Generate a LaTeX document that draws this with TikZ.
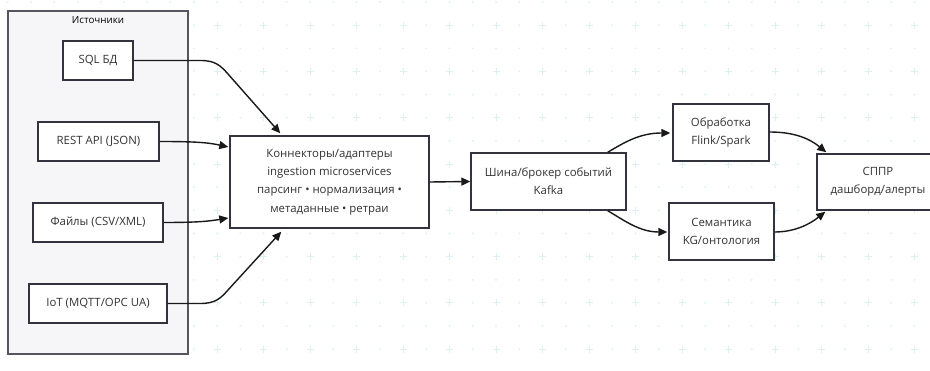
\documentclass[tikz,border=0pt]{standalone}
\usepackage{fontspec}
\setmainfont{Open Sans}
\usetikzlibrary{arrows.meta,calc}
\definecolor{gridc}{HTML}{DCF0F4}
\definecolor{boxline}{HTML}{333340}
\definecolor{txt}{HTML}{333333}
\definecolor{clfill}{HTML}{F6F6F8}
\definecolor{clline}{HTML}{555560}
\begin{document}
\begin{tikzpicture}[x=1pt,y=-1pt,
  box/.style={draw=boxline,line width=1.4pt,fill=white,inner sep=0pt,align=center,text=txt,font=\fontsize{11.4}{18.3}\selectfont},
  cluster/.style={draw=clline,line width=1.3pt,fill=clfill,inner sep=0pt},
  arr/.style={draw=black!90,line width=1.4pt,-{Triangle[length=9pt,width=8pt]}},
  ln/.style={draw=black!90,line width=1.4pt}]
\useasboundingbox (0,0) rectangle (930,371);
\clip (0,0) rectangle (930,371);
\fill[white] (0,0) rectangle (930,371);
% background grid
\foreach \j in {0,...,8}{
  \foreach \i in {0,...,40}{
    \fill[gridc] ({7.75+23.25*\i},{2+46.3*\j}) circle (1pt);
  }
  \foreach \i in {0,...,20}{
    \fill[gridc] ({7.75+46.5*\i},{25.15+46.3*\j}) circle (1pt);
    \draw[gridc,line width=0.9pt] ({31+46.5*\i-3.5},{25.15+46.3*\j}) -- ++(7,0)
      ({31+46.5*\i},{25.15+46.3*\j-3.5}) -- ++(0,7);
  }
}
% cluster
\node[cluster,minimum width=180pt,minimum height=343pt] (src) at (98,182.5) {};
\node[text=black,font=\fontsize{9.8}{11}\selectfont,inner sep=0pt] (srct) at (98,20) {Источники};
% nodes
\node[box,minimum width=70pt,minimum height=39pt] (sql) at (98,60.5) {SQL БД};
\node[box,minimum width=121pt,minimum height=39pt] (rest) at (98.5,141.5) {REST API (JSON)};
\node[box,minimum width=130pt,minimum height=39pt] (files) at (98,222.5) {Файлы (CSV/XML)};
\node[box,minimum width=138pt,minimum height=39pt] (iot) at (98,303.5) {IoT (MQTT/OPC UA)};
\node[box,minimum width=199pt,minimum height=92pt] (conn) at (329.5,182) {Коннекторы/адаптеры\\ingestion microservices\\парсинг • нормализация •\\метаданные • ретраи};
\node[box,minimum width=155pt,minimum height=57pt] (bus) at (548.5,181.5) {Шина/брокер событий\\Kafka};
\node[box,minimum width=96pt,minimum height=57pt] (proc) at (721,132.5) {Обработка\\Flink/Spark};
\node[box,minimum width=105pt,minimum height=57pt] (sem) at (721.5,231.5) {Семантика\\KG/онтология};
\node[box,minimum width=122pt,minimum height=56pt] (sppr) at (878,182) {СППР\\дашборд/алерты};
% edges
\draw[arr] (sql.east) -- (200,60.5) .. controls (215,60.5) and (220,65) .. (228,74) -- ($(conn.north west)+(51,-2)$);
\draw[arr] (rest.east) .. controls (200,141.5) and (210,143) .. ($(conn.west)+(-1,-35)$);
\draw[arr] (files.east) .. controls (200,222.5) and (210,221) .. ($(conn.west)+(-1,36)$);
\draw[arr] (iot.east) -- (200,303.5) .. controls (215,303.5) and (220,299) .. (228,290) -- ($(conn.south west)+(52,3)$);
\draw[arr] (conn.east) -- (bus.west);
\draw[arr] ($(bus.north east)+(-19,0)$) .. controls (625,142) and (640,133) .. ($(proc.west)+(-2,0.5)$);
\draw[arr] ($(bus.south east)+(-19,0)$) .. controls (625,221) and (640,232) .. ($(sem.west)+(-1,0.5)$);
\draw[arr] ($(proc.east)+(0,-0.5)$) .. controls (795,132) and (810,139) .. ($(sppr.north west)+(10,-1)$);
\draw[arr] ($(sem.east)+(0,0.5)$) .. controls (795,232) and (810,224) .. ($(sppr.south west)+(9,1)$);
\end{tikzpicture}
\end{document}
